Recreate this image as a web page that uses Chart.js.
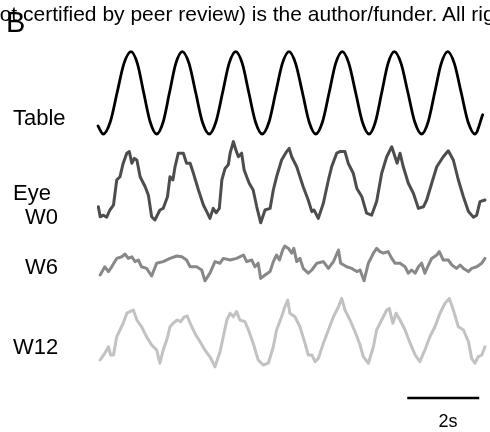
<!DOCTYPE html>
<html>
<head>
<meta charset="utf-8">
<script src="https://cdn.jsdelivr.net/npm/chart.js@4/dist/chart.umd.min.js"></script>
<style>
  html, body { margin: 0; padding: 0; background: #fff; }
  #wrap { position: relative; width: 490px; height: 432px; overflow: hidden; }
  canvas { position: absolute; left: 0; top: 0; }
  .t { position: absolute; font-family: "Liberation Sans", Arial, sans-serif; line-height: 1; white-space: nowrap; color: #000; }
</style>
</head>
<body>
<div id="wrap">
  <canvas id="c" width="490" height="432"></canvas>
  <div class="t" style="left:-19px;top:3px;font-size:21px;">(not certified by peer review) is the author/funder. All rights reserved.</div>
  <div class="t" style="left:6px;top:8px;font-size:29px;">B</div>
  <div class="t" style="left:13px;top:107px;font-size:22px;">Table</div>
  <div class="t" style="left:13px;top:182px;font-size:22px;">Eye</div>
  <div class="t" style="left:25px;top:206px;font-size:22px;">W0</div>
  <div class="t" style="left:25px;top:256px;font-size:22px;">W6</div>
  <div class="t" style="left:13px;top:336px;font-size:22px;">W12</div>
  <div class="t" id="sbl" style="left:420px;top:412px;width:56px;text-align:center;font-size:18px;">2s</div>
</div>
<script>
// ---- data (time in s, position in deg, relative to each trace baseline) ----
const traceNames = ["Table", "Eye W0", "W6", "W12"];
const traceOffsets = [76.8, 54, 34, 17];
const traceColors = ["#000000", "#4d4d4d", "#888888", "#c2c2c2"];

const tableTime = [0, 0.147, 0.34, 0.53, 0.72, 0.917, 1.095, 1.27, 1.45, 1.63, 1.81, 1.985, 2.16, 2.34, 2.53, 2.715, 2.90, 3.09, 3.275, 3.46, 3.64, 3.825, 4.01, 4.19, 4.375, 4.56, 4.75, 4.935, 5.12, 5.306, 5.49, 5.68, 5.865, 6.05, 6.235, 6.42, 6.60, 6.786, 6.97, 7.158, 7.344, 7.53, 7.705, 7.88, 8.055, 8.23, 8.42, 8.61, 8.80, 8.99, 9.17, 9.352, 9.533, 9.714, 9.90, 10.09, 10.28, 10.47, 10.686];
const tableVal = [-8.3,
  -10.3, -7.3, 0, 7.3, 10.3, 7.3, 0, -7.3,
  -10.3, -7.3, 0, 7.3, 10.3, 7.3, 0, -7.3,
  -10.3, -7.3, 0, 7.3, 10.3, 7.3, 0, -7.3,
  -10.3, -7.3, 0, 7.3, 10.3, 7.3, 0, -7.3,
  -10.3, -7.3, 0, 7.3, 10.3, 7.3, 0, -7.3,
  -10.3, -7.3, 0, 7.3, 10.3, 7.3, 0, -7.3,
  -10.3, -7.3, 0, 7.3, 10.3, 7.3, 0, -7.3,
  -10.3, -5.5];

const w0Time = [0.01,0.06,0.15,0.24,0.33,0.43,0.52,0.61,0.70,0.80,
  0.87,0.94,1.01,1.08,1.17,1.31,1.40,1.49,1.58,1.72,
  1.81,1.93,2.00,2.08,2.14,2.23,2.37,2.46,2.56,2.65,
  2.79,2.93,3.02,3.11,3.20,3.28,3.37,3.44,3.53,3.62,
  3.67,3.76,3.83,3.90,3.99,4.06,4.13,4.20,4.31,4.41,
  4.52,4.64,4.78,4.87,4.96,5.10,5.24,5.31,5.38,5.52,
  5.70,5.84,5.94,6.00,6.12,6.26,6.40,6.49,6.63,6.72,
  6.86,6.95,7.09,7.19,7.33,7.46,7.60,7.74,7.88,8.02,
  8.16,8.25,8.31,8.39,8.48,8.62,8.76,8.90,9.04,9.13,
  9.27,9.41,9.59,9.73,9.87,10.01,10.15,10.29,10.43,10.52,
  10.61,10.75];
const w0Val = [-5.7,-8.2,-7.8,-8.3,-6.5,-5.3,1.0,1.8,5.2,7.7,
  8.1,5.2,6.4,6.0,1.8,-0.7,-2.8,-8.2,-9.0,-6.5,
  -6.1,-3.2,1.8,1.0,4.3,7.7,7.7,5.2,5.2,2.7,
  -1.5,-5.3,-6.9,-8.6,-6.1,-7.2,-6.1,1.0,3.9,4.8,
  7.7,10.6,8.5,6.8,7.7,3.5,1.8,0.2,-1.5,-5.7,
  -9.7,-6.5,-6.1,-1.5,1.8,6.0,8.1,8.9,6.8,4.3,
  -0.7,-4.0,-6.9,-6.5,-8.6,-4.8,1.0,4.3,7.7,8.1,
  8.1,5.2,2.7,-1.1,-3.2,-7.3,-7.8,-4.4,2.7,6.8,
  9.3,6.8,5.2,7.7,4.3,0.2,-2.3,-6.1,-5.7,-4.0,
  0.2,4.3,6.8,8.3,6.0,1.0,-3.2,-6.9,-8.3,-7.8,
  -4.4,-4.0];

const w6Time = [0.06,0.19,0.29,0.38,0.52,0.66,0.75,0.84,0.94,1.03,
  1.12,1.21,1.35,1.49,1.63,1.81,2.00,2.19,2.33,2.46,
  2.56,2.74,2.88,2.97,3.11,3.25,3.39,3.48,3.67,3.85,
  4.04,4.13,4.27,4.36,4.45,4.52,4.64,4.78,4.87,4.96,
  5.04,5.13,5.19,5.29,5.38,5.44,5.52,5.61,5.70,5.84,
  5.94,6.08,6.26,6.40,6.54,6.68,6.74,6.91,7.05,7.19,
  7.28,7.39,7.51,7.65,7.74,7.83,7.93,8.06,8.16,8.25,
  8.39,8.53,8.62,8.71,8.81,8.90,8.99,9.08,9.18,9.27,
  9.41,9.48,9.59,9.73,9.83,9.96,10.06,10.15,10.29,10.38,
  10.52,10.66,10.75];
const w6Val = [-2.75,-0.7,-1.9,-0.7,1.4,1.8,2.5,1.4,1.8,0.6,
  1.0,-0.7,-1.1,-3.0,0.2,0.6,1.4,2.0,1.8,1.0,
  -0.7,-0.7,-1.5,-4.2,-2.3,0.6,0.2,1.4,1.0,1.4,
  2.25,0.6,1.0,-0.7,0.2,-3.6,-2.75,-1.9,0.6,2.25,
  1.0,3.5,4.5,3.9,2.7,3.9,0.6,1.4,-1.1,-2.3,
  -1.5,0.2,0.6,-1.1,0.6,3.5,0.2,-0.7,-1.1,-1.9,
  -1.5,-4.2,0.2,2.7,3.9,3.1,2.7,3.1,1.4,0.2,
  0.2,-0.7,-2.3,-1.5,-2.3,-0.7,0.2,-2.3,-0.25,1.4,
  2.25,3.1,1.0,1.0,-0.25,-1.1,-0.25,-1.1,-1.9,-1.1,
  -0.7,0.2,1.4];

const w12Time = [0.06,0.19,0.29,0.35,0.43,0.52,0.61,0.70,0.80,0.89,
  0.98,1.08,1.21,1.35,1.49,1.63,1.72,1.81,1.91,2.00,
  2.09,2.20,2.30,2.39,2.48,2.56,2.69,2.83,2.97,3.11,
  3.25,3.39,3.48,3.58,3.67,3.76,3.85,3.94,4.08,4.18,
  4.31,4.45,4.59,4.73,4.87,4.96,5.10,5.19,5.27,5.33,
  5.47,5.61,5.75,5.84,5.94,6.03,6.12,6.26,6.40,6.54,
  6.68,6.77,6.86,7.00,7.14,7.28,7.37,7.51,7.65,7.74,
  7.88,8.02,8.09,8.19,8.28,8.39,8.53,8.67,8.81,8.94,
  9.08,9.22,9.36,9.50,9.64,9.76,9.87,10.01,10.15,10.29,
  10.38,10.47,10.56,10.66,10.75];
const w12Val = [-7.0,-5.3,-3.7,-5.75,-5.75,-1.2,0.5,2.2,4.7,5.1,
  5.5,3.0,1.3,-1.2,-3.25,-4.5,-7.8,-4.5,-2.0,1.3,
  2.2,3.0,2.6,3.7,4.0,2.2,-0.3,-2.4,-4.5,-6.2,
  -8.7,-4.9,-1.2,3.0,4.7,3.8,5.1,3.0,2.6,0.5,
  -2.8,-7.0,-8.25,-7.8,-3.7,0.5,3.8,6.3,8.0,4.7,
  3.8,1.3,-2.8,-5.75,-5.75,-7.4,-6.6,-2.8,0.5,3.8,
  6.3,8.4,5.5,3.0,0.1,-3.25,-6.2,-7.8,-3.7,0.5,
  3.0,5.5,5.9,2.2,4.7,3.0,0.5,-2.8,-5.75,-7.4,
  -4.5,-1.2,1.3,4.7,7.2,8.4,5.5,1.3,0.5,-2.4,
  -6.6,-7.8,-6.2,-5.75,-3.7];

// scale bar: 2 s
const scaleBarTime = [8.59, 10.59];
const scaleBarLevel = 0.5;
const scaleBarLabel = "2s";

// ---- build chart ----
function pts(times, vals, off) { return times.map((t, i) => ({ x: t, y: vals[i] + off })); }
const series = [[tableTime, tableVal], [w0Time, w0Val], [w6Time, w6Val], [w12Time, w12Val]];
const datasets = series.map((s, k) => ({
  label: traceNames[k],
  data: pts(s[0], s[1], traceOffsets[k]),
  borderColor: traceColors[k],
  borderWidth: k === 0 ? 2.8 : 3,
  pointRadius: 0,
  fill: false,
  tension: 0,
  cubicInterpolationMode: k === 0 ? 'monotone' : 'default',
  borderJoinStyle: 'round',
  borderCapStyle: 'round',
  clip: false
}));
datasets.push({
  label: 'scale',
  data: scaleBarTime.map(t => ({ x: t, y: scaleBarLevel })),
  borderColor: '#000', borderWidth: 2.6, pointRadius: 0, fill: false, clip: false
});
document.getElementById('sbl').textContent = scaleBarLabel;

new Chart(document.getElementById('c'), {
  type: 'line',
  data: { datasets },
  options: {
    responsive: false, animation: false, devicePixelRatio: 1,
    layout: { padding: { left: 98, right: 5, top: 40, bottom: 24 } },
    scales: {
      x: { type: 'linear', min: 0, max: 10.75, display: false },
      y: { type: 'linear', min: -2, max: 90, display: false }
    },
    plugins: { legend: { display: false }, tooltip: { enabled: false } }
  }
});
</script>
</body>
</html>
